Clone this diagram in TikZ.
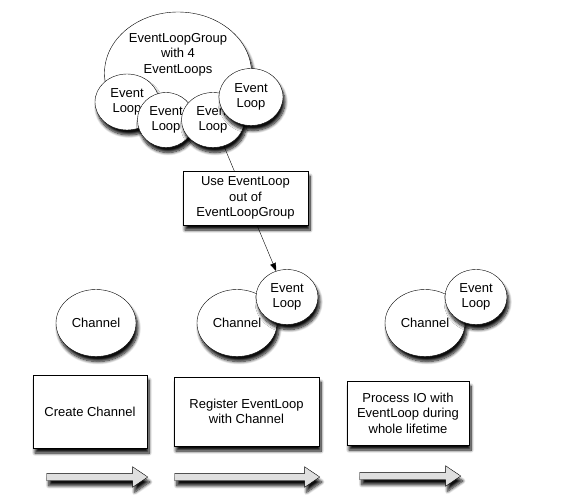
\documentclass[tikz,border=0pt]{standalone}
\usepackage{fontspec}
\setmainfont{Liberation Sans}
\usetikzlibrary{shapes.geometric,shapes.arrows,shadows.blur,arrows.meta}
\begin{document}
\begin{tikzpicture}[x=1pt,y=-1pt,
  font=\fontsize{13}{15.5}\selectfont,
  shad/.style={blur shadow={shadow xshift=2pt,shadow yshift=-5pt,shadow blur steps=10,shadow blur radius=3pt,shadow opacity=95}},
  oval/.style={ellipse,draw,fill=white,inner sep=0pt,align=center,shad},
  el/.style={oval,minimum width=62pt,minimum height=55pt},
  chan/.style={oval,minimum width=80pt,minimum height=67pt},
  stepbox/.style={draw,fill=white,align=center,inner sep=0pt,shad},
  bigarrow/.style={single arrow,draw,fill=gray!25,inner sep=3.5pt,minimum width=20pt,
    single arrow head extend=6.5pt,single arrow tip angle=68,shad}]
\useasboundingbox (0,0) rectangle (575,498);
% EventLoopGroup
\node[oval,minimum width=147pt,minimum height=122pt,text depth=40pt] (grp) at (178,73) {EventLoopGroup\\with 4\\EventLoops};
\node[el,minimum width=64pt,minimum height=56pt] (e1) at (127,102) {Event\\Loop};
\node[el,minimum width=57pt,minimum height=55pt] (e2) at (166,120) {Event\\Loop};
\node[el,minimum width=63pt,minimum height=55pt] (e3) at (213,120) {Event\\Loop};
\node[el,minimum width=64pt,minimum height=57pt] (e4) at (251,97) {Event\\Loop};
% channels
\node[chan] (c1) at (96,323) {Channel};
\node[chan] (c2) at (237,323) {Channel};
\node[el] (ce2) at (287,297) {Event\\Loop};
\node[chan] (c3) at (425,323) {Channel};
\node[el] (ce3) at (476,297) {Event\\Loop};
% connector
\draw[-{Triangle[length=8pt,width=6pt]}] (e3) -- (ce2);
\node[stepbox,minimum width=125pt,minimum height=54pt] (use) at (245.5,198) {Use EventLoop\\out of\\EventLoopGroup};
% steps
\node[stepbox,minimum width=114pt,minimum height=73pt] (s1) at (90,411.5) {Create Channel};
\node[stepbox,minimum width=145pt,minimum height=69pt] (s2) at (246.5,411.5) {Register EventLoop\\with Channel};
\node[stepbox,minimum width=122pt,minimum height=64pt] (s3) at (408,413) {Process IO with\\EventLoop during\\whole lifetime};
% arrows
\node[bigarrow,minimum height=101pt] (a1) at (94.5,477) {};
\node[bigarrow,minimum height=145pt] (a2) at (244.5,477) {};
\node[bigarrow,minimum height=101pt] (a3) at (407.5,476) {};
\end{tikzpicture}
\end{document}
